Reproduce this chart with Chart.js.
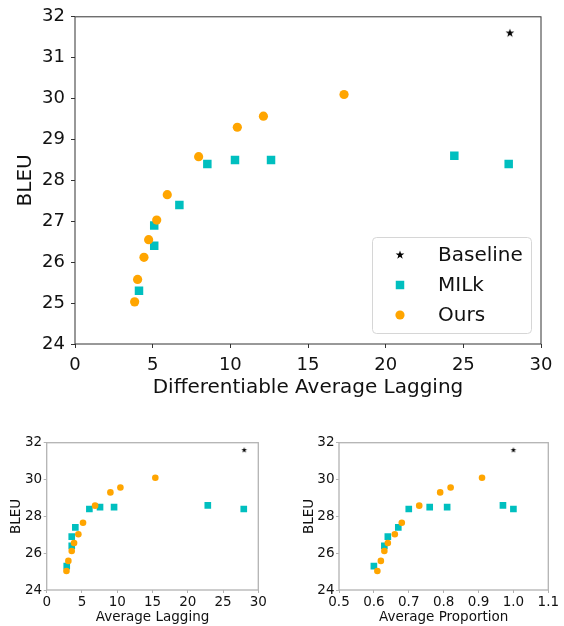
<!DOCTYPE html>
<html><head><meta charset="utf-8">
<script src="https://cdn.jsdelivr.net/npm/chart.js@4"></script>
<style>
html,body{margin:0;padding:0;background:#fff;width:564px;height:626px;overflow:hidden}
canvas{position:absolute;display:block}
</style></head><body>
<canvas id="cTop" style="left:0;top:0;width:564px;height:400px"></canvas>
<canvas id="cBL" style="left:0;top:420px;width:282px;height:206px"></canvas>
<canvas id="cBR" style="left:282px;top:420px;width:282px;height:206px"></canvas>
<script>
// ---------- data ----------
const seriesNames = ['Baseline', 'MILk', 'Ours'];
const bleuBaseline = [31.6];
const bleuMilk = [25.3, 26.4, 26.9, 27.4, 28.4, 28.5, 28.5, 28.6, 28.4];
const bleuOurs = [25.03, 25.58, 26.12, 26.55, 27.03, 27.65, 28.58, 29.3, 29.57, 30.1];

const dalBaseline = [28];
const dalMilk = [4.12, 5.1, 5.1, 6.72, 8.52, 10.3, 12.62, 24.42, 27.92];
const dalOurs = [3.84, 4.03, 4.44, 4.74, 5.26, 5.94, 7.96, 10.45, 12.13, 17.32];

const alBaseline = [28];
const alMilk = [2.84, 3.55, 3.55, 4.06, 6.05, 7.56, 9.55, 22.84, 27.94];
const alOurs = [2.8, 3.07, 3.55, 3.88, 4.49, 5.15, 6.86, 9.03, 10.45, 15.4];

const apBaseline = [1.0];
const apMilk = [0.60, 0.63, 0.64, 0.67, 0.70, 0.76, 0.81, 0.97, 1.00];
const apOurs = [0.61, 0.62, 0.63, 0.64, 0.66, 0.68, 0.73, 0.79, 0.82, 0.91];

const topXTicks = [0, 5, 10, 15, 20, 25, 30];
const topYTicks = [24, 25, 26, 27, 28, 29, 30, 31, 32];
const alXTicks = [0, 5, 10, 15, 20, 25, 30];
const apXTicks = [0.5, 0.6, 0.7, 0.8, 0.9, 1.0, 1.1];
const smallYTicks = [24, 26, 28, 30, 32];

// ---------- helpers ----------
const FONT = "'DejaVu Sans', sans-serif";
const C_MILK = '#00bfbf', C_OURS = '#ffa500', C_BASE = '#000000';

function starCanvas(r, color) {
  const s = Math.ceil(r * 2 + 2);
  const c = document.createElement('canvas');
  c.width = s; c.height = s;
  const g = c.getContext('2d');
  g.fillStyle = color;
  g.beginPath();
  for (let i = 0; i < 10; i++) {
    const rr = i % 2 ? r * 0.382 : r;
    const a = -Math.PI / 2 + i * Math.PI / 5;
    g.lineTo(s / 2 + rr * Math.cos(a), s / 2 + rr * Math.sin(a));
  }
  g.closePath(); g.fill();
  return c;
}
const zip = (xs, ys) => xs.map((x, i) => ({x: x, y: ys[i]}));

const framePlugin = {
  id: 'frame',
  afterDraw(chart, args, opts) {
    const a = chart.chartArea, ctx = chart.ctx;
    ctx.save();
    ctx.strokeStyle = opts.color; ctx.lineWidth = opts.width;
    ctx.strokeRect(a.left, a.top, a.right - a.left, a.bottom - a.top);
    ctx.restore();
  }
};

const legendPlugin = {
  id: 'boxLegend',
  afterDraw(chart, args, o) {
    if (!o.display) return;
    const a = chart.chartArea, ctx = chart.ctx;
    const x1 = a.right - o.right, y1 = a.bottom - o.bottom;
    const x0 = x1 - o.w, y0 = y1 - o.h;
    ctx.save();
    ctx.beginPath();
    ctx.roundRect(x0 + 0.5, y0 + 0.5, o.w, o.h, 4);
    ctx.fillStyle = 'rgba(255,255,255,0.8)'; ctx.fill();
    ctx.strokeStyle = '#d6d6d6'; ctx.lineWidth = 1; ctx.stroke();
    ctx.font = o.font; ctx.textBaseline = 'middle'; ctx.textAlign = 'left';
    chart.data.datasets.slice().sort((p, q) => p.legendIndex - q.legendIndex).forEach((ds, i) => {
      const cy = y0 + o.firstRow + i * o.rowH;
      const cx = x0 + o.markerX;
      const ps = ds.pointStyle, r = ds.pointRadius;
      ctx.fillStyle = ds.backgroundColor;
      if (ps instanceof HTMLCanvasElement) {
        ctx.drawImage(ps, cx - ps.width / 2, cy - ps.height / 2);
      } else if (ps === 'rect') {
        const s = Math.SQRT1_2 * r;
        ctx.fillRect(cx - s, cy - s, 2 * s, 2 * s);
      } else {
        ctx.beginPath(); ctx.arc(cx, cy, r, 0, Math.PI * 2); ctx.fill();
      }
      ctx.fillStyle = '#111';
      ctx.fillText(ds.label, x0 + o.textX, cy + 1);
    });
    ctx.restore();
  }
};

function makeChart(id, cw, ch, cfg) {
  const cv = document.getElementById(id);
  cv.width = cw; cv.height = ch;
  const datasets = [
    {label: seriesNames[2], legendIndex: 2, data: zip(cfg.oursX, bleuOurs), backgroundColor: C_OURS,
     pointStyle: 'circle', pointRadius: cfg.rCirc, pointBorderWidth: 0, borderWidth: 0},
    {label: seriesNames[1], legendIndex: 1, data: zip(cfg.milkX, bleuMilk), backgroundColor: C_MILK,
     pointStyle: 'rect', pointRadius: cfg.rRect, pointBorderWidth: 0, borderWidth: 0},
    {label: seriesNames[0], legendIndex: 0, data: zip(cfg.baseX, bleuBaseline), backgroundColor: C_BASE,
     pointStyle: starCanvas(cfg.rStar, C_BASE), pointRadius: cfg.rStar, pointBorderWidth: 0, borderWidth: 0}
  ];
  const tickFont = {family: FONT, size: cfg.tickSize};
  const titleFont = {family: FONT, size: cfg.titleSize};
  return new Chart(cv, {
    type: 'scatter',
    data: {datasets: datasets},
    plugins: [framePlugin, legendPlugin],
    options: {
      responsive: false, animation: false, devicePixelRatio: 1,
      events: [],
      layout: {padding: {top: cfg.padTop, right: cfg.padRight, left: 0, bottom: 0}},
      plugins: {
        legend: {display: false}, tooltip: {enabled: false},
        frame: {color: cfg.frameColor, width: cfg.frameWidth},
        boxLegend: cfg.legend || {display: false}
      },
      scales: {
        x: {
          type: 'linear', position: 'bottom', min: cfg.xTicks[0], max: cfg.xTicks[cfg.xTicks.length - 1],
          afterBuildTicks: s => { s.ticks = cfg.xTicks.map(v => ({value: v})); },
          afterFit: s => { s.height = cfg.xH; },
          ticks: {font: tickFont, color: '#111', padding: cfg.xTickPad, autoSkip: false, maxRotation: 0,
                  callback: v => cfg.xFmt ? cfg.xFmt(v) : String(v)},
          grid: {drawOnChartArea: false, drawTicks: true, tickLength: cfg.tickLen, tickColor: cfg.frameColor, tickWidth: 1},
          border: {display: false},
          title: {display: true, text: cfg.xTitle, font: titleFont, color: '#111', padding: {top: 0, bottom: cfg.xTitlePad}}
        },
        y: {
          type: 'linear', position: 'left', min: cfg.yTicks[0], max: cfg.yTicks[cfg.yTicks.length - 1],
          afterBuildTicks: s => { s.ticks = cfg.yTicks.map(v => ({value: v})); },
          afterFit: s => { s.width = cfg.yW; },
          ticks: {font: tickFont, color: '#111', padding: cfg.yTickPad, autoSkip: false,
                  callback: v => String(v)},
          grid: {drawOnChartArea: false, drawTicks: true, tickLength: cfg.tickLen, tickColor: cfg.frameColor, tickWidth: 1},
          border: {display: false},
          title: {display: true, text: 'BLEU', font: titleFont, color: '#111', padding: {top: cfg.yTitlePad, bottom: 0}}
        }
      }
    }
  });
}

makeChart('cTop', 564, 400, {
  baseX: dalBaseline, milkX: dalMilk, oursX: dalOurs,
  xTicks: topXTicks, yTicks: topYTicks, xTitle: 'Differentiable Average Lagging',
  tickSize: 18, titleSize: 20, tickLen: 4,
  padTop: 14, padRight: 23, yW: 75, xH: 56,
  xTickPad: 7, yTickPad: 6, xTitlePad: 0.5, yTitlePad: 14,
  rCirc: 4.6, rRect: 6, rStar: 4.6,
  frameColor: '#333', frameWidth: 1,
  legend: {display: true, right: 10, bottom: 11, w: 159, h: 96, firstRow: 18, rowH: 30,
           markerX: 28, textX: 66, font: "20px 'DejaVu Sans', sans-serif"}
});

makeChart('cBL', 282, 206, {
  baseX: alBaseline, milkX: alMilk, oursX: alOurs,
  xTicks: alXTicks, yTicks: smallYTicks, xTitle: 'Average Lagging',
  tickSize: 13.5, titleSize: 13.5, tickLen: 3,
  padTop: 22.7, padRight: 23.7, yW: 46.7, xH: 36,
  xTickPad: 1, yTickPad: 1.5, xTitlePad: 0.5, yTitlePad: 8,
  rCirc: 3.3, rRect: 4.7, rStar: 3,
  frameColor: '#b3b3b3', frameWidth: 1.3
});

makeChart('cBR', 282, 206, {
  baseX: apBaseline, milkX: apMilk, oursX: apOurs,
  xTicks: apXTicks, yTicks: smallYTicks, xTitle: 'Average Proportion',
  xFmt: v => v.toFixed(1),
  tickSize: 13.5, titleSize: 13.5, tickLen: 3,
  padTop: 22.7, padRight: 15.7, yW: 57, xH: 36,
  xTickPad: 1, yTickPad: 1.5, xTitlePad: 0.5, yTitlePad: 19,
  rCirc: 3.3, rRect: 4.7, rStar: 3,
  frameColor: '#b3b3b3', frameWidth: 1.3
});
</script>
</body></html>
